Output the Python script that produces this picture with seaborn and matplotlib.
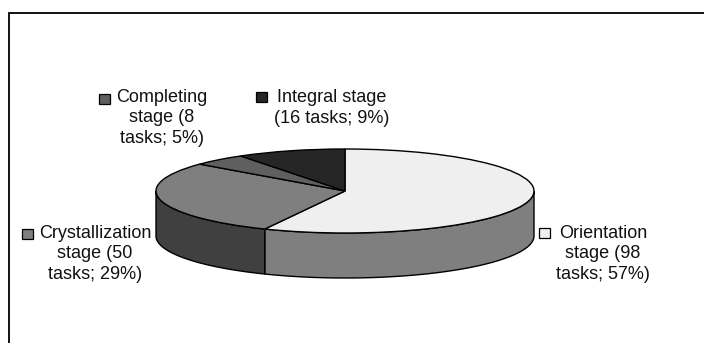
import numpy as np
import seaborn as sns
import matplotlib.pyplot as plt
from matplotlib.patches import Rectangle

stages = ['Orientation', 'Crystallization', 'Completing', 'Integral']
tasks = [98, 50, 8, 16]
percents = [57, 29, 5, 9]
label_texts = [
    'Orientation\nstage (98\ntasks; 57%)',
    'Crystallization\nstage (50\ntasks; 29%)',
    'Completing\nstage (8\ntasks; 5%)',
    'Integral stage\n(16 tasks; 9%)',
]

top_colors = ['#efefef', '#7f7f7f', '#5f5f5f', '#262626']
wall_colors = ['#7f7f7f', '#404040', '#2f2f2f', '#131313']

# label centre (x, y of block) and swatch left/top, in pixels
label_pos = [(603, 254), (95, 254), (162, 118), (332, 108)]
swatch_pos = [(539, 228), (22, 229), (99, 94), (256, 92)]

W, H = 704, 343
cx, cy, rx, ry, depth = 345, 191, 189, 42, 45

sns.set_theme(style='white')
plt.rcParams['font.family'] = ['Liberation Sans', 'DejaVu Sans']

fig = plt.figure(figsize=(W / 100, H / 100), dpi=100, facecolor='white')

# page layer in pixel coords
page = fig.add_axes([0, 0, 1, 1])
page.set_xlim(0, W)
page.set_ylim(H, 0)
page.axis('off')
page.plot([9, 9, W], [H, 13, 13], color='black', lw=1.3, solid_joinstyle='miter')

for txt, (x, y), (sx, sy), col in zip(label_texts, label_pos, swatch_pos, top_colors):
    page.text(x, y, txt, ha='center', va='center', multialignment='center',
              fontsize=13, color='#111111', linespacing=1.25)
    page.add_patch(Rectangle((sx, sy), 11, 10, facecolor=col, edgecolor='black', lw=0.9))

# pie layer: unit circle squashed into the ellipse, with room for the wall below
ax = fig.add_axes([(cx - rx) / W, 1 - (cy + ry + depth) / H, 2 * rx / W, (2 * ry + depth) / H])
ax.patch.set_alpha(0)

ax.pie(tasks, colors=top_colors, startangle=90, counterclock=False,
       wedgeprops=dict(edgecolor='black', linewidth=1.0), normalize=True)
ax.set_aspect('auto')
ax.set_xlim(-1, 1)
ax.set_ylim(-1 - depth / ry, 1)
for wedge in ax.patches:
    wedge.set_zorder(3)
    wedge.set_clip_on(False)

# side wall, only the front half of the disc shows
drop = depth / ry
bounds = np.concatenate([[0], np.cumsum(tasks)]) / sum(tasks) * 360
for start, end, col in zip(bounds[:-1], bounds[1:], wall_colors):
    lo, hi = max(start, 90), min(end, 270)
    if lo >= hi:
        continue
    a = np.radians(np.linspace(lo, hi, 80))
    xs, ys = np.sin(a), np.cos(a)
    ax.fill(np.r_[xs, xs[::-1]], np.r_[ys, ys[::-1] - drop], facecolor=col,
            edgecolor='black', lw=1.0, zorder=2, clip_on=False)

fig.savefig('out.png', dpi=100)
